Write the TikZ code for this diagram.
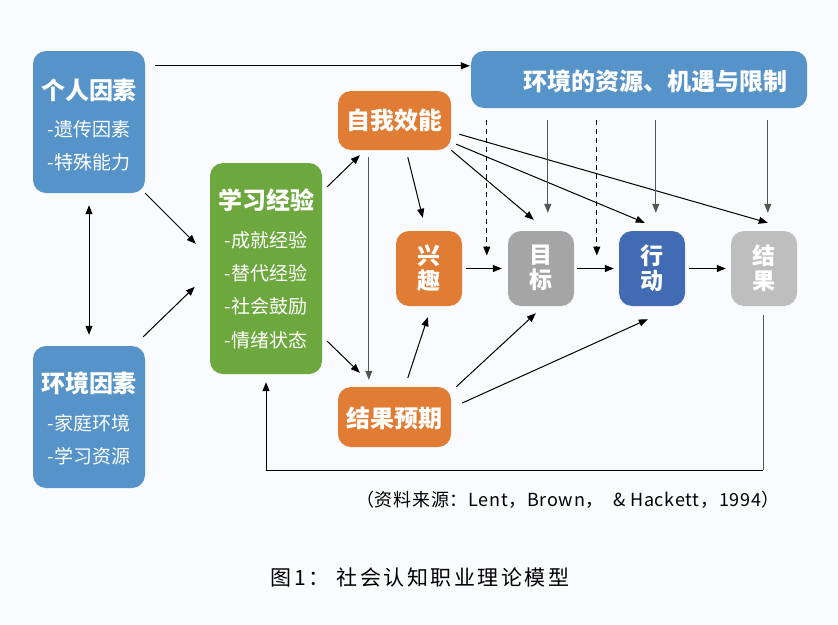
\documentclass[tikz,border=0pt]{standalone}
\usepackage{fontspec}
\setmainfont{Noto Sans CJK SC}
\usetikzlibrary{arrows.meta,calc}
\definecolor{bgc}{HTML}{FAFBFE}
\definecolor{cblue}{HTML}{5593C8}
\definecolor{corange}{HTML}{E07C33}
\definecolor{cgreen}{HTML}{6DA83F}
\definecolor{cgray}{HTML}{A5A5A5}
\definecolor{cdblue}{HTML}{416CB4}
\definecolor{clgray}{HTML}{BEBEBE}
\definecolor{lgrey}{HTML}{555555}
\begin{document}
\begin{tikzpicture}[x=1pt,y=-1pt,
  box/.style={rounded corners=13pt, inner sep=0pt, draw=none},
  ttl/.style={text=white, font=\fontsize{24}{27}\selectfont\bfseries, inner sep=0pt},
  subt/.style={text=white, font=\fontsize{19}{22}\selectfont, inner sep=0pt},
  vtxt/.style={text=white, font=\fontsize{23}{25}\selectfont\bfseries, align=center, inner sep=0pt},
  arr/.style={-{Triangle[length=9pt,width=7pt]}, line width=1pt, black},
  garr/.style={arr, lgrey},
  darr/.style={arr, dash pattern=on 5pt off 4pt}
]
\fill[bgc] (0,0) rectangle (838,624);
\useasboundingbox (0,0) rectangle (838,624);

% boxes
\node[box, fill=cblue, minimum width=112pt, minimum height=142pt] (pf) at (89,122) {};
\node[box, fill=cblue, minimum width=112pt, minimum height=142pt] (ef) at (89,417) {};
\node[box, fill=cgreen, minimum width=112pt, minimum height=211pt] (le) at (266,268.5) {};
\node[box, fill=cblue, minimum width=336pt, minimum height=57pt] (env) at (639,79.5) {};
\node[box, fill=corange, minimum width=113pt, minimum height=59pt] (se) at (394.5,120.5) {};
\node[box, fill=corange, minimum width=113pt, minimum height=60pt] (oe) at (394.5,417) {};
\node[box, fill=corange, minimum width=66pt, minimum height=75pt] (in) at (429,268.5) {};
\node[box, fill=cgray, minimum width=66pt, minimum height=75pt] (go) at (541,268.5) {};
\node[box, fill=cdblue, minimum width=66pt, minimum height=75pt] (act) at (652,268.5) {};
\node[box, fill=clgray, minimum width=66pt, minimum height=75pt] (res) at (764,268.5) {};

% texts
\node[ttl] (pft) at (89,90) {个人因素};
\node[subt] (pfs1) at (89,129) {-遗传因素};
\node[subt] (pfs2) at (89,162) {-特殊能力};
\node[ttl] (eft) at (89,383) {环境因素};
\node[subt] (efs1) at (89,423) {-家庭环境};
\node[subt] (efs2) at (89,456) {-学习资源};
\node[ttl] (let) at (266,200) {学习经验};
\node[subt] (les1) at (266,240) {-成就经验};
\node[subt] (les2) at (266,273) {-替代经验};
\node[subt] (les3) at (266,306) {-社会鼓励};
\node[subt] (les4) at (266,340) {-情绪状态};
\node[ttl] (envt) at (655,81) {环境的资源、机遇与限制};
\node[ttl] (set) at (394.5,120) {自我效能};
\node[ttl] (oet) at (394.5,418) {结果预期};
\node[vtxt] (int) at (429,268) {兴\\趣};
\node[vtxt] (got) at (541,268) {目\\标};
\node[vtxt] (actt) at (652,268) {行\\动};
\node[vtxt] (rest) at (764,268) {结\\果};

% connectors
\draw[arr] ($(pf.north east)+(10,15)$) -- ($(env.north west)+(-1,15)$);
\draw[arr, {Triangle[length=9pt,width=7pt]}-{Triangle[length=9pt,width=7pt]}] ($(pf.south)+(0,12)$) -- ($(ef.north)+(0,-11)$);
\draw[arr] ($(pf.south east)+(0,0)$) -- ($(le.north west)+(-14,81)$);
\draw[arr] ($(ef.north east)+(-2,-9)$) -- ($(le.north west)+(-15,124)$);
\draw[arr] ($(le.north east)+(5,24)$) -- ($(se.south west)+(22,5)$);
\draw[arr] ($(le.south east)+(5,-33)$) -- ($(oe.north west)+(22,-14)$);
\draw[garr] ($(se.south west)+(31,7)$) -- ($(oe.north west)+(31,-7)$);
\draw[arr] ($(se.south west)+(70,7)$) -- ($(in.north west)+(27,-13)$);
\draw[arr] ($(oe.north west)+(70,-9)$) -- ($(in.south west)+(32,11)$);
\draw[arr] ($(in.east)+(4,0)$) -- ($(go.west)+(-6,0)$);
\draw[arr] ($(go.east)+(3,0)$) -- ($(act.west)+(-5,0)$);
\draw[arr] ($(act.east)+(4,0)$) -- ($(res.west)+(-5,0)$);
\draw[arr] ($(se.south east)+(0,0)$) -- ($(go.north west)+(26,-11)$);
\draw[arr] ($(se.south east)+(5,-6)$) -- ($(act.north west)+(26,-8)$);
\draw[arr] ($(se.south east)+(8,-16)$) -- ($(res.north west)+(37,-8)$);
\draw[garr] ($(env.south west)+(77,12)$) -- ($(go.north west)+(40,-18)$);
\draw[garr] ($(env.south west)+(185,12)$) -- ($(act.north west)+(37,-18)$);
\draw[garr] ($(env.south west)+(297,12)$) -- ($(res.north west)+(37,-18)$);
\draw[darr] ($(env.south west)+(16,12)$) -- ($(go.west)+(-21,-13)$);
\draw[darr] ($(env.south west)+(126,12)$) -- ($(act.west)+(-22,-13)$);
\draw[arr] ($(oe.north east)+(5,0)$) -- ($(go.south west)+(28,7)$);
\draw[arr] ($(oe.east)+(11,-14)$) -- ($(act.south west)+(29,13)$);
\draw[lgrey, line width=1pt] ($(res.south)+(-1,9)$) -- ($(res.south)+(-1,164)$);
\draw[arr] ($(res.south)+(-1,164)$) -| ($(le.south)+(0,8)$);

% source and caption
\node[inner sep=0pt, font=\fontsize{18}{20}\selectfont\addfontfeature{LetterSpace=4}] (src) at (568,500) {（资料来源：Lent，Brown，~~\&~Hackett，1994）};
\node[inner sep=0pt, font=\fontsize{21}{23}\selectfont\addfontfeature{LetterSpace=12}] (cap) at (420,577) {图1：~社会认知职业理论模型};
\end{tikzpicture}
\end{document}
